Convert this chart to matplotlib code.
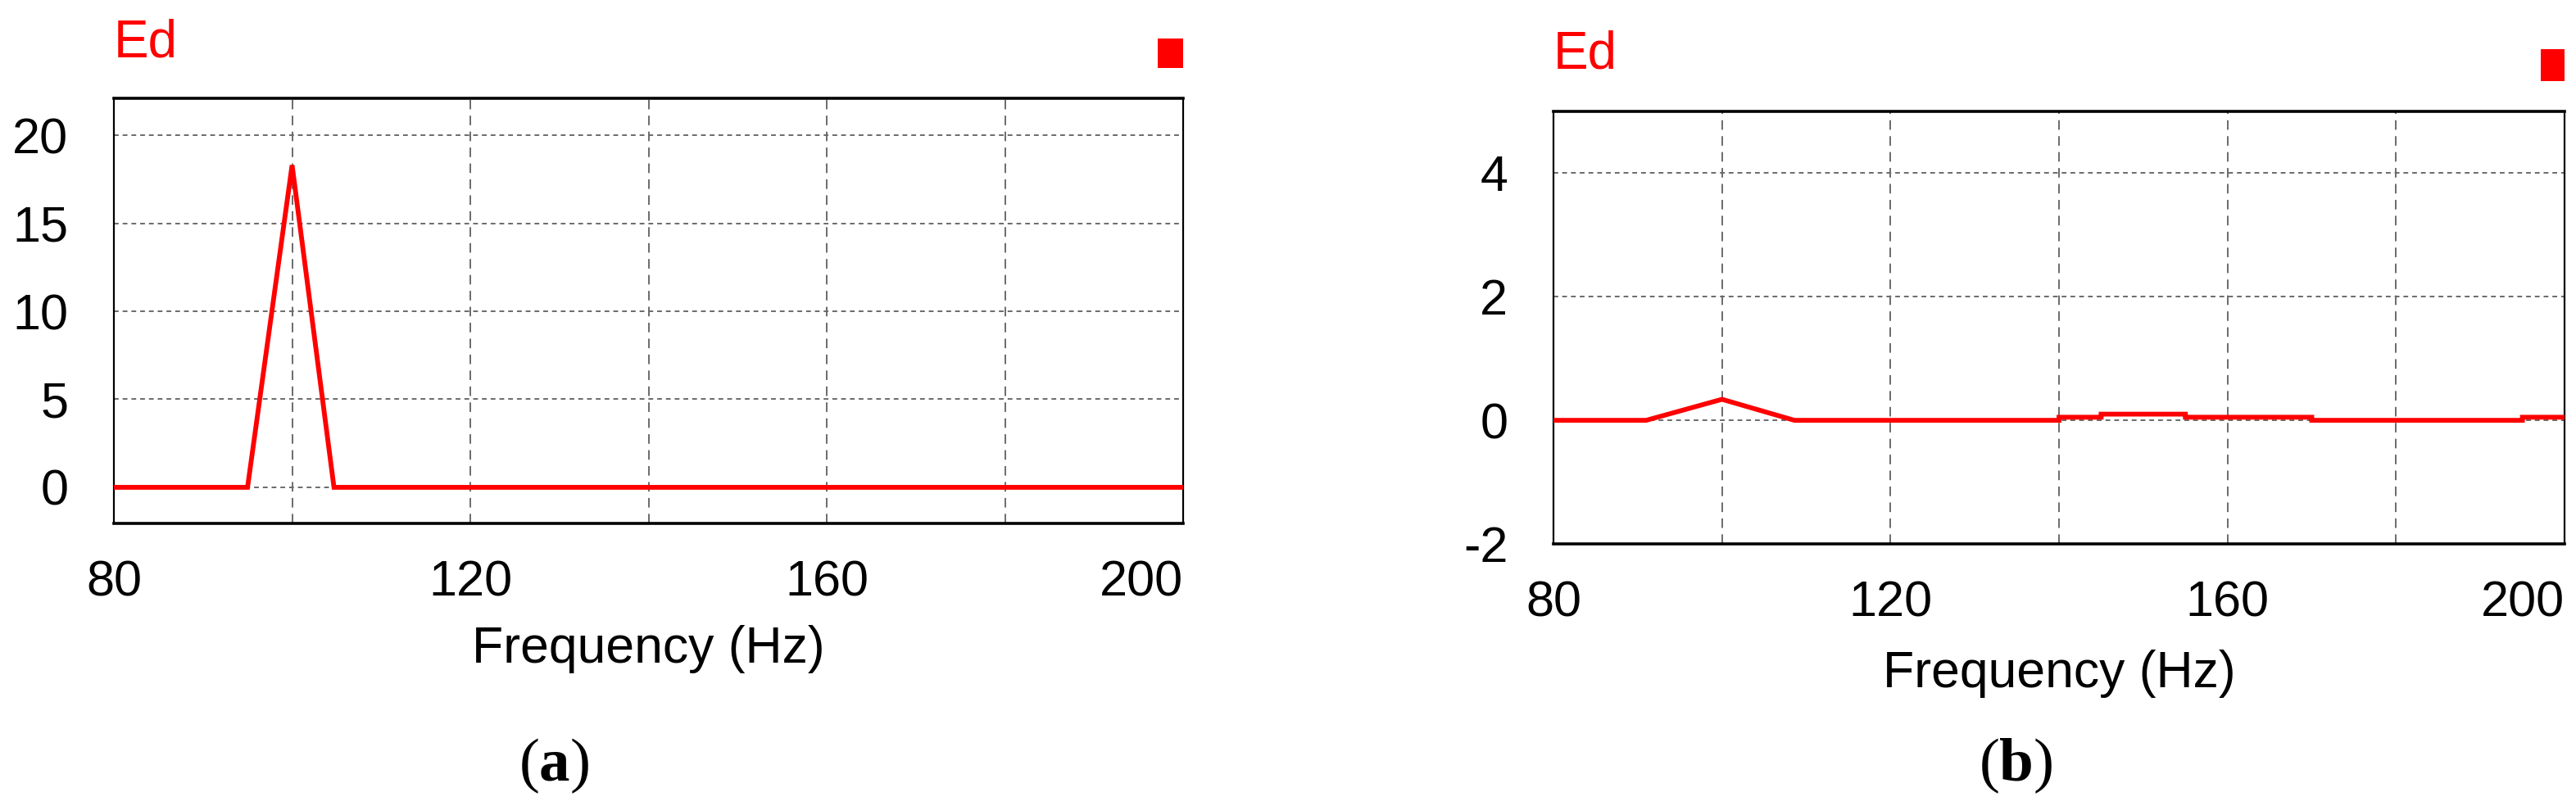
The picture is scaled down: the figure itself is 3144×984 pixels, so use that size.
import matplotlib
matplotlib.use('Agg')
import matplotlib.pyplot as plt
from matplotlib.patches import Rectangle

# values
freq_a = [80, 95, 100, 104.7, 200]
ed_a = [0, 0, 18.3, 0, 0]

freq_b = [80, 91, 100, 108.6, 140, 140, 145, 145, 155, 155, 170, 170, 195, 195, 200]
ed_b = [0, 0, 0.34, 0, 0, 0.05, 0.05, 0.1, 0.1, 0.05, 0.05, 0, 0, 0.05, 0.05]

xticks = [80, 120, 160, 200]
xminor = [100, 140, 180]
yticks_a = [0, 5, 10, 15, 20]
yticks_b = [-2, 0, 2, 4]

plt.rcParams['font.family'] = ['Liberation Sans', 'DejaVu Sans']
plt.rcParams['axes.unicode_minus'] = False
plt.rcParams['mathtext.fontset'] = 'custom'
plt.rcParams['mathtext.bf'] = 'Liberation Serif:bold'

W, H = 3144, 984
fig = plt.figure(figsize=(W / 100, H / 100), dpi=100)


def px(x0, y0, x1, y1):
    # pixel box -> figure fraction [left, bottom, width, height]
    return [x0 / W, 1 - y1 / H, (x1 - x0) / W, (y1 - y0) / H]


def buildPanel(rect, x, y, yticks, ylim, ed_pos, square, letter, letter_x, xlabelpad):
    ax = fig.add_axes(px(*rect))
    ax.plot(x, y, color='#ff0000', lw=4.2, solid_joinstyle='miter', zorder=3)

    ax.set_xlim(80, 200)
    ax.set_ylim(*ylim)
    ax.set_xticks(xticks)
    ax.set_xticks(xminor, minor=True)
    ax.set_yticks(yticks)

    ax.grid(axis='x', which='both', color='#6a6a6a', lw=1.4, ls=(0, (6, 4)))
    ax.grid(axis='y', which='major', color='#6a6a6a', lw=1.4, ls=(0, (3, 2.5)))
    ax.set_axisbelow(True)

    ax.tick_params(axis='both', which='both', length=0, labelsize=44)
    ax.tick_params(axis='y', pad=40)
    ax.tick_params(axis='x', pad=32)
    labels = ax.get_xticklabels()
    labels[-1].set_horizontalalignment('right')

    for s in ax.spines.values():
        s.set_color('black')
        s.set_linewidth(1.6)
    ax.spines['top'].set_linewidth(2.6)
    ax.spines['bottom'].set_linewidth(2.6)

    ax.set_xlabel('Frequency (Hz)', fontsize=45, labelpad=xlabelpad)

    fig.text(ed_pos[0] / W, 1 - ed_pos[1] / H, 'Ed', color='#ff0000',
             fontsize=46, ha='left', va='baseline')

    sx0, sy0, sx1, sy1 = square
    fig.patches.append(Rectangle((sx0 / W, 1 - sy1 / H), (sx1 - sx0) / W, (sy1 - sy0) / H,
                                 transform=fig.transFigure, color='#ff0000', lw=0))

    fig.text(letter_x / W, 1 - 935 / H, '(' + r'$\mathbf{' + letter + '}$' + ')',
             fontsize=54, family='Liberation Serif', ha='center', va='center')
    return ax


buildPanel((139, 120, 1444, 639), freq_a, ed_a, yticks_a, (-2.05, 22.1),
           (139, 69), (1413, 47, 1444, 83), 'a', 676, 16)
buildPanel((1896, 136, 3130, 664), freq_b, ed_b, yticks_b, (-2, 5),
           (1896, 83), (3101, 60, 3130, 99), 'b', 2460, 20)

plt.savefig('out.png', dpi=100)
plt.close()
